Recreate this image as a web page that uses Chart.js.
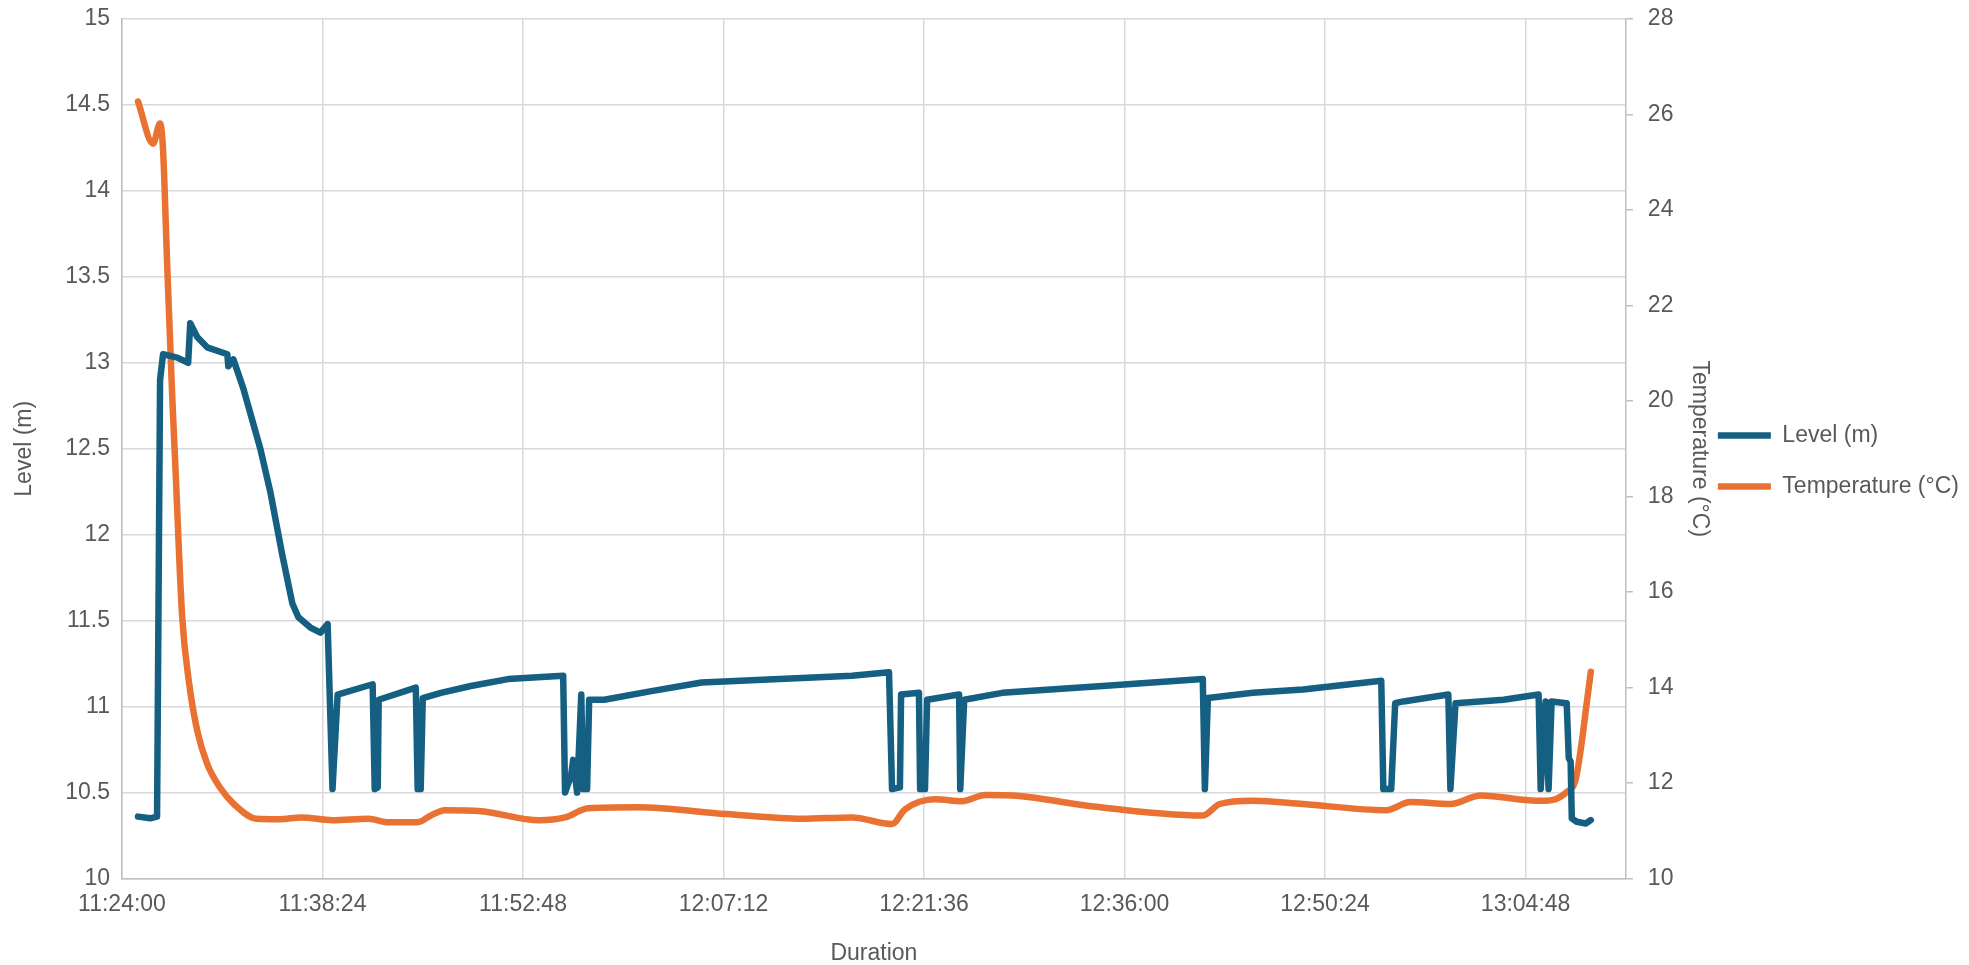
<!DOCTYPE html>
<html>
<head>
<meta charset="utf-8">
<script src="https://cdn.jsdelivr.net/npm/chart.js@4"></script>
<style>
  html, body { margin: 0; padding: 0; background: #fff; }
  #wrap { width: 1969px; height: 965px; }
</style>
</head>
<body>
<div id="wrap"><canvas id="chart" width="1969" height="965"></canvas></div>
<script>
// level readings (m)
let levelTimes = [
    '11:25:09', '11:26:01', '11:26:31', '11:26:44', '11:26:57', '11:27:58', '11:28:45', '11:28:54',
    '11:29:24', '11:30:07', '11:31:34', '11:31:38', '11:32:00', '11:32:43', '11:33:56', '11:34:39',
    '11:35:31', '11:36:14', '11:36:40', '11:37:32', '11:38:15', '11:38:46', '11:39:07', '11:39:29',
    '11:42:00', '11:42:09', '11:42:22', '11:42:26', '11:45:06', '11:45:14', '11:45:27', '11:45:36',
    '11:46:54', '11:49:03', '11:51:43', '11:55:41', '11:55:49', '11:56:15', '11:56:24', '11:56:41',
    '11:56:59', '11:57:07', '11:57:24', '11:57:33', '11:58:38', '12:02:01', '12:05:37', '12:16:25',
    '12:19:05', '12:19:18', '12:19:52', '12:19:57', '12:21:14', '12:21:19', '12:21:40', '12:21:49',
    '12:24:07', '12:24:12', '12:24:29', '12:27:13', '12:34:25', '12:41:37', '12:41:46', '12:41:59',
    '12:45:13', '12:48:49', '12:54:26', '12:54:35', '12:55:09', '12:55:26', '12:56:01', '12:59:15',
    '12:59:24', '12:59:46', '13:03:13', '13:05:44', '13:05:53', '13:06:14', '13:06:27', '13:06:40',
    '13:07:45', '13:07:54', '13:08:02', '13:08:07', '13:08:28', '13:09:07', '13:09:29'
];
let levelValues = [
    10.36, 10.35, 10.36, 12.9, 13.05, 13.03, 13.0, 13.23,
    13.15, 13.09, 13.05, 12.98, 13.02, 12.85, 12.5, 12.25,
    11.88, 11.6, 11.52, 11.46, 11.43, 11.48, 10.52, 11.07,
    11.13, 10.52, 10.53, 11.04, 11.11, 10.52, 10.52, 11.05,
    11.08, 11.12, 11.16, 11.18, 10.5, 10.6, 10.69, 10.5,
    11.07, 10.52, 10.52, 11.04, 11.04, 11.09, 11.14, 11.18,
    11.2, 10.52, 10.53, 11.07, 11.08, 10.52, 10.52, 11.04,
    11.07, 10.52, 11.04, 11.08, 11.12, 11.16, 10.52, 11.05,
    11.08, 11.1, 11.15, 10.52, 10.52, 11.02, 11.03, 11.07,
    10.52, 11.02, 11.04, 11.07, 10.52, 11.03, 10.52, 11.03,
    11.02, 10.7, 10.68, 10.35, 10.33, 10.32, 10.34
];

// temperature readings (°C)
let tempTimes = [
    '11:25:09', '11:26:14', '11:26:44', '11:26:57', '11:27:14', '11:27:36', '11:27:49', '11:28:19',
    '11:28:49', '11:29:24', '11:30:07', '11:31:03', '11:32:04', '11:33:39', '11:35:18', '11:36:53',
    '11:39:07', '11:41:43', '11:43:00', '11:45:14', '11:46:11', '11:47:11', '11:49:47', '11:53:57',
    '11:55:49', '11:57:29', '12:01:00', '12:07:25', '12:12:49', '12:16:25', '12:19:18', '12:20:14',
    '12:22:24', '12:24:20', '12:26:00', '12:28:26', '12:33:12', '12:41:37', '12:42:50', '12:45:13',
    '12:48:49', '12:54:48', '12:56:31', '12:59:24', '13:01:34', '13:05:36', '13:06:19', '13:07:45',
    '13:08:24', '13:08:50', '13:09:12', '13:09:29'
];
let tempValues = [
    26.27, 25.39, 25.81, 25.25, 22.94, 20.14, 18.74, 15.5,
    14.1, 13.1, 12.4, 11.9, 11.55, 11.25, 11.24, 11.28,
    11.22, 11.25, 11.18, 11.18, 11.32, 11.43, 11.41, 11.22,
    11.28, 11.47, 11.49, 11.35, 11.25, 11.28, 11.14, 11.45,
    11.66, 11.62, 11.75, 11.73, 11.53, 11.32, 11.56, 11.63,
    11.56, 11.43, 11.6, 11.56, 11.74, 11.63, 11.63, 11.81,
    12.08, 12.86, 13.7, 14.33
];

// axis settings
let startTime = '11:24:00';
let endTime = '13:12:00';
let tickStep = 864; // seconds between x labels
let levelMin = 10, levelMax = 15, levelStep = 0.5;
let tempMin = 10, tempMax = 28, tempStep = 2;

function toSec(t) {
    let p = t.split(':').map(Number);
    return p[0] * 3600 + p[1] * 60 + p[2];
}

let t0 = toSec(startTime);
let tEnd = toSec(endTime) - t0;

function toPoints(times, values) {
    return times.map((t, i) => ({ x: toSec(t) - t0, y: values[i] }));
}

function formatTime(sec) {
    let s = Math.round(sec + t0);
    let h = Math.floor(s / 3600);
    let m = Math.floor((s % 3600) / 60);
    let ss = s % 60;
    return h + ':' + String(m).padStart(2, '0') + ':' + String(ss).padStart(2, '0');
}

let tickFont = { family: 'Liberation Sans', size: 23 };
let titleFont = { family: 'Liberation Sans', size: 23 };
let textColor = '#595959';
let gridColor = '#d9d9d9';
let axisColor = '#bfbfbf';

let ctx = document.getElementById('chart').getContext('2d');
new Chart(ctx, {
    type: 'line',
    data: {
        datasets: [{
            label: 'Level (m)',
            data: toPoints(levelTimes, levelValues),
            borderColor: '#156082',
            backgroundColor: '#156082',
            borderWidth: 6.5,
            borderCapStyle: 'round',
            borderJoinStyle: 'round',
            pointRadius: 0,
            tension: 0,
            yAxisID: 'y'
        }, {
            label: 'Temperature (°C)',
            data: toPoints(tempTimes, tempValues),
            borderColor: '#E97132',
            backgroundColor: '#E97132',
            borderWidth: 6.5,
            borderCapStyle: 'round',
            borderJoinStyle: 'round',
            pointRadius: 0,
            cubicInterpolationMode: 'monotone',
            yAxisID: 'y1'
        }]
    },
    options: {
        responsive: false,
        animation: false,
        layout: { padding: { top: 0, right: 0, bottom: 0, left: 0 } },
        plugins: {
            tooltip: { enabled: false },
            legend: {
                position: 'right',
                align: 'start',
                title: { display: true, text: '', font: { size: 10 }, padding: { top: 384, bottom: 0 } },
                labels: {
                    usePointStyle: true,
                    pointStyle: 'line',
                    pointStyleWidth: 53,
                    color: textColor,
                    font: tickFont,
                    padding: 28
                }
            }
        },
        scales: {
            x: {
                type: 'linear',
                min: 0,
                max: tEnd,
                afterBuildTicks: scale => {
                    let ticks = [];
                    for (let v = 0; v < tEnd; v += tickStep) ticks.push({ value: v });
                    scale.ticks = ticks;
                },
                afterFit: scale => { scale.height = 86.5; },
                ticks: {
                    autoSkip: false,
                    maxRotation: 0,
                    padding: 12,
                    color: textColor,
                    font: tickFont,
                    callback: v => formatTime(v)
                },
                grid: { color: gridColor, lineWidth: 1.5, drawTicks: false },
                border: { color: axisColor, width: 1.5 },
                title: { display: true, text: 'Duration', color: textColor, font: titleFont, padding: { top: 0, bottom: -2 } }
            },
            y: {
                position: 'left',
                min: levelMin,
                max: levelMax,
                afterFit: scale => {
                    scale.width = 122;
                    scale.paddingTop = 19;
                },
                ticks: {
                    stepSize: levelStep,
                    padding: 12,
                    color: textColor,
                    font: tickFont,
                    callback: v => String(v)
                },
                grid: { color: gridColor, lineWidth: 1.5, drawTicks: false },
                border: { color: axisColor, width: 1.5 },
                title: { display: true, text: 'Level (m)', color: textColor, font: titleFont, padding: { top: 11, bottom: 0 } }
            },
            y1: {
                position: 'right',
                min: tempMin,
                max: tempMax,
                afterFit: scale => {
                    scale.width = 64;
                    scale.paddingTop = 19;
                },
                ticks: {
                    stepSize: tempStep,
                    padding: 15,
                    color: textColor,
                    font: tickFont
                },
                grid: { drawOnChartArea: false, color: axisColor, lineWidth: 1.5, tickLength: 7 },
                border: { color: axisColor, width: 1.5 },
                title: { display: true, text: 'Temperature (°C)', color: textColor, font: titleFont, padding: { top: -23, bottom: 0 } }
            }
        }
    }
});
</script>
</body>
</html>
